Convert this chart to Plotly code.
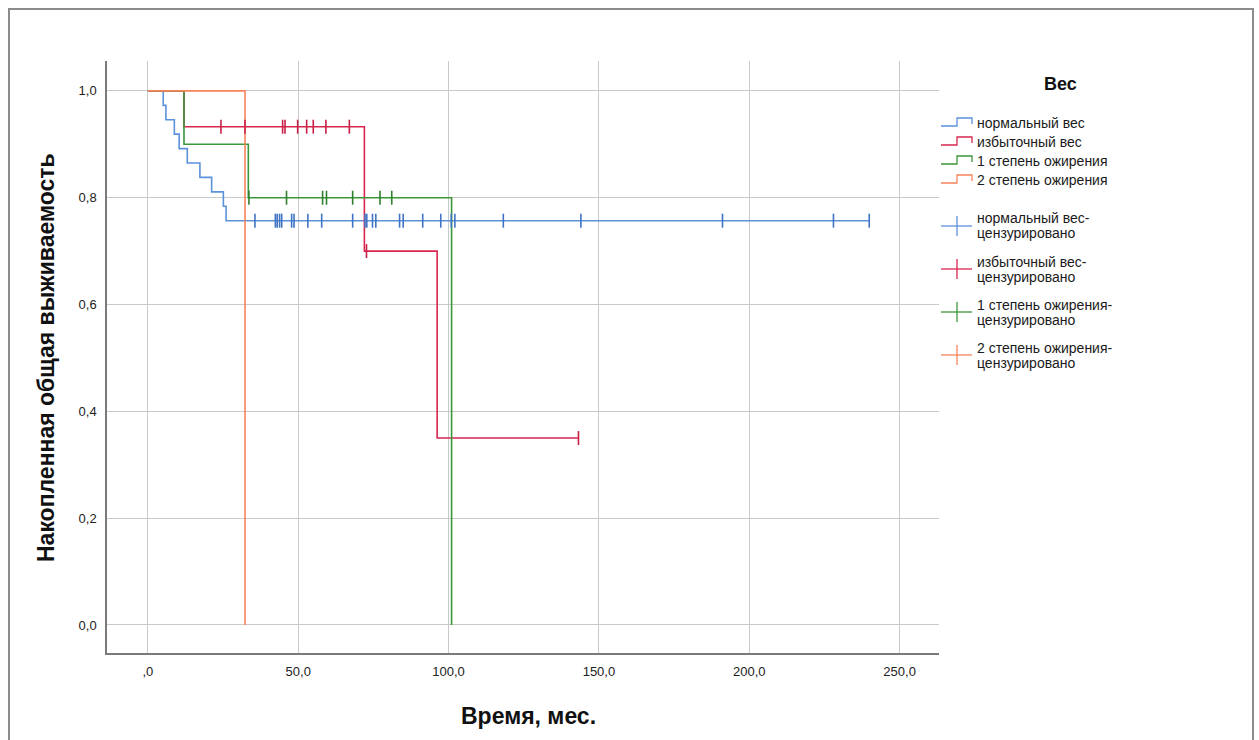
import plotly.graph_objects as go

# Kaplan-Meier step curves (time in months, cumulative survival)
normal_t = [0, 5.1, 6.0, 8.8, 10.4, 13.1, 17.3, 21.2, 25.1, 26.0, 239.9]
normal_s = [1.0, 0.973, 0.946, 0.919, 0.892, 0.865, 0.838, 0.811, 0.784, 0.757, 0.757]
normal_cens_t = [35.6, 42.4, 43.0, 43.8, 44.5, 47.8, 48.6, 53.2, 57.8, 68.1, 72.2, 72.8,
                 74.7, 75.8, 83.7, 84.9, 91.4, 97.4, 100.9, 102.1, 118.2, 144.0, 191.1,
                 228.0, 239.9]
normal_cens_s = [0.757] * len(normal_cens_t)

over_t = [0, 12.0, 72.0, 96.2, 143.2]
over_s = [1.0, 0.933, 0.70, 0.35, 0.35]
over_cens_t = [24.3, 32.3, 44.8, 45.6, 49.8, 52.8, 55.0, 59.2, 67.0, 72.7, 143.2]
over_cens_s = [0.933] * 9 + [0.70, 0.35]

ob1_t = [0, 12.0, 33.4, 101.0]
ob1_s = [1.0, 0.90, 0.80, 0.0]
ob1_cens_t = [33.6, 46.1, 58.1, 59.4, 68.1, 77.2, 81.1]
ob1_cens_s = [0.80] * len(ob1_cens_t)

ob2_t = [0, 32.3]
ob2_s = [1.0, 0.0]

x_ticks = [0, 50, 100, 150, 200, 250]
x_tick_text = [",0", "50,0", "100,0", "150,0", "200,0", "250,0"]
y_ticks = [0, 0.2, 0.4, 0.6, 0.8, 1.0]
y_tick_text = ["0,0", "0,2", "0,4", "0,6", "0,8", "1,0"]

group_names = ["нормальный вес", "избыточный вес", "1 степень ожирения", "2 степень ожирения"]
censored_names = [["нормальный вес-", "цензурировано"], ["избыточный вес-", "цензурировано"],
                  ["1 степень ожирения-", "цензурировано"], ["2 степень ожирения-", "цензурировано"]]

colors = ["#5b92d9", "#d8264f", "#3a973a", "#f5845c"]
cens_colors = ["#3f74c4", "#c81f47", "#2f7f2f", "#f07a50"]

FONT = "Liberation Sans, Arial, sans-serif"

# plot area in pixels
L, R, T, B = 107, 939, 61, 653
W, H = 1259, 740


def px(x):
    return (x - L) / (R - L)


def py(y):
    return (B - y) / (B - T)


fig = go.Figure()

curves = [(normal_t, normal_s), (over_t, over_s), (ob1_t, ob1_s), (ob2_t, ob2_s)]
censored = [(normal_cens_t, normal_cens_s), (over_cens_t, over_cens_s),
            (ob1_cens_t, ob1_cens_s), ([], [])]

for i, (t, s) in enumerate(curves):
    fig.add_trace(go.Scatter(x=t, y=s, mode="lines", line=dict(color=colors[i], width=1.6, shape="hv"),
                             name=group_names[i], showlegend=False, hoverinfo="skip"))
for i, (t, s) in enumerate(censored):
    fig.add_trace(go.Scatter(x=t, y=s, mode="markers",
                             marker=dict(symbol="line-ns", size=10,
                                         line=dict(color=cens_colors[i], width=1.6)),
                             name=" ".join(censored_names[i]), showlegend=False, hoverinfo="skip"))

shapes = []
annotations = []

# outer frame
shapes.append(dict(type="rect", xref="paper", yref="paper",
                   x0=px(9), x1=px(1253), y0=py(760), y1=py(9),
                   line=dict(color="#8c8c8c", width=2), fillcolor="rgba(0,0,0,0)", layer="below"))


def legend_text(text, yc):
    annotations.append(dict(text=text, x=px(975), y=py(yc), xref="paper", yref="paper",
                            showarrow=False, xanchor="left", yanchor="middle", align="left",
                            font=dict(family=FONT, size=14, color="#1a1a1a")))


# legend
annotations.append(dict(text="<b>Вес</b>", x=px(1060), y=py(84), xref="paper", yref="paper",
                        showarrow=False, xanchor="center", yanchor="middle",
                        font=dict(family=FONT, size=18, color="#111")))
line_rows = [123, 142, 161, 180]
for i, yc in enumerate(line_rows):
    path = (f"M {px(941)},{py(yc + 3)} L {px(957)},{py(yc + 3)} L {px(957)},{py(yc - 5)} "
            f"L {px(972)},{py(yc - 5)} L {px(972)},{py(yc + 1)}")
    shapes.append(dict(type="path", xref="paper", yref="paper", path=path,
                       line=dict(color=colors[i], width=1.3)))
    legend_text(group_names[i], yc)
cens_rows = [226, 269, 312, 355]
for i, yc in enumerate(cens_rows):
    shapes.append(dict(type="line", xref="paper", yref="paper", x0=px(941), x1=px(972),
                       y0=py(yc), y1=py(yc), line=dict(color=colors[i], width=1.3)))
    shapes.append(dict(type="line", xref="paper", yref="paper", x0=px(957), x1=px(957),
                       y0=py(yc - 10), y1=py(yc + 10), line=dict(color=colors[i], width=1.3)))
    legend_text(censored_names[i][0], yc - 7.5)
    legend_text(censored_names[i][1], yc + 7.5)

# axis titles
annotations.append(dict(text="<b>Время, мес.</b>", x=px(528), y=py(716), xref="paper", yref="paper",
                        showarrow=False, xanchor="center", yanchor="middle",
                        font=dict(family=FONT, size=23, color="#111")))
annotations.append(dict(text="<b>Накопленная общая выживаемость</b>", x=px(46), y=py(358),
                        xref="paper", yref="paper", textangle=-90,
                        showarrow=False, xanchor="center", yanchor="middle",
                        font=dict(family=FONT, size=23, color="#111")))

fig.update_layout(
    width=W, height=H,
    margin=dict(l=L, r=W - R, t=T, b=H - B, pad=0),
    paper_bgcolor="white", plot_bgcolor="white",
    showlegend=False,
    shapes=shapes, annotations=annotations,
    font=dict(family=FONT, color="#222"),
)
fig.update_xaxes(range=[-13.6, 263.1], tickvals=x_ticks, ticktext=x_tick_text,
                 showgrid=True, gridcolor="#c9c9c9", gridwidth=1, zeroline=False,
                 showline=True, linecolor="#7a7a7a", linewidth=1.5,
                 ticks="outside", ticklen=6, tickcolor="rgba(0,0,0,0)",
                 tickfont=dict(family=FONT, size=13, color="#222"), fixedrange=True)
fig.update_yaxes(range=[-0.0525, 1.056], tickvals=y_ticks, ticktext=y_tick_text,
                 showgrid=True, gridcolor="#c9c9c9", gridwidth=1, zeroline=False,
                 showline=True, linecolor="#7a7a7a", linewidth=1.5,
                 ticks="outside", ticklen=6, tickcolor="rgba(0,0,0,0)",
                 tickfont=dict(family=FONT, size=13, color="#222"), fixedrange=True)

fig.write_html("out.html", config={"displayModeBar": False})
